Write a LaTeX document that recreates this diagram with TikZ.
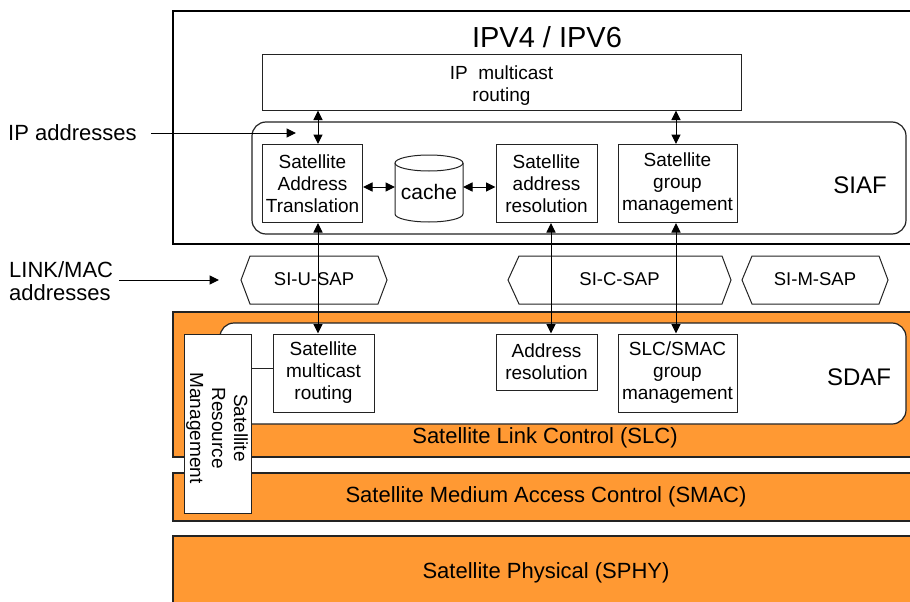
\documentclass[tikz,border=0pt]{standalone}
\usepackage{fontspec}
\setmainfont{Liberation Sans}
\usetikzlibrary{arrows.meta}
\definecolor{orng}{RGB}{255,153,51}
\definecolor{edge}{RGB}{35,35,35}
\begin{document}
\begin{tikzpicture}[x=1pt,y=-1pt,
  box/.style={draw=edge, line width=1pt, fill=white, inner sep=0pt, align=center, font=\fontsize{19}{22}\selectfont},
  boxtext/.style={inner sep=0pt, align=center, font=\fontsize{19}{22}\selectfont},
  layer/.style={draw=edge, line width=1.2pt, fill=orng},
  cont/.style={draw=edge, line width=1.2pt, fill=white, rounded corners=14pt},
  lbl/.style={inner sep=0pt, font=\fontsize{22}{26}\selectfont},
  side/.style={inner sep=0pt, align=left, font=\fontsize{22}{23}\selectfont},
  dbl/.style={{Triangle[length=9.5pt,width=9pt]}-{Triangle[length=9.5pt,width=9pt]}, line width=1pt},
  sgl/.style={-{Triangle[length=9.5pt,width=9pt]}, line width=1pt},
  sapline/.style={draw=edge, line width=1pt, fill=white},
  saptext/.style={inner sep=0pt, font=\fontsize{18.5}{22}\selectfont}
]
\useasboundingbox (0,0) rectangle (910,602);
\clip (0,0) rectangle (910,602);

% ---------- upper (IP) block ----------
\draw[line width=1.6pt, fill=white] (173,11) rectangle (915,244);
\node[lbl, font=\fontsize{29}{32}\selectfont, anchor=base] (ipv) at (547,48) {IPV4 / IPV6};
\node[box, minimum width=479pt, minimum height=55pt] (ipmc) at (501.5,82.5) {};
\node[boxtext] (ipmctext) at (501.5,86) {IP\ \ multicast\\routing};

\draw[cont] (252,122) rectangle (906,234);
\node[lbl, font=\fontsize{24}{28}\selectfont] (siaf) at (860,185) {SIAF};

\node[box, minimum width=100pt, minimum height=78pt] (sat) at (312.5,183.5) {Satellite\\Address\\Translation};
\node[box, minimum width=101pt, minimum height=78pt] (sar) at (546.5,183.5) {Satellite\\address\\resolution};
\node[box, minimum width=119pt, minimum height=78pt] (sgm) at (677.5,183.5) {Satellite\\group\\management};

% cache cylinder
\draw[draw=edge, line width=1pt, fill=white] (395,163) -- (395,214)
  arc[start angle=180, end angle=360, x radius=34pt, y radius=8pt] -- (463,163);
\draw[draw=edge, line width=1pt, fill=white] (429,163) ellipse[x radius=34pt, y radius=8pt];
\node[inner sep=0pt, font=\fontsize{21}{24}\selectfont] (cache) at (429,192) {cache};
\coordinate (cacheL) at (395,187);
\coordinate (cacheR) at (463,187);

% ---------- side labels ----------
\node[side, anchor=west] (ipaddr) at (8,133) {IP addresses};
\coordinate (ipstart) at (151,133);
\coordinate (iptip) at (296,133);
\node[side, anchor=west] (linkmac) at (9,281) {LINK/MAC\\addresses};
\coordinate (lmstart) at (119,280);
\coordinate (lmtip) at (219,280);

% ---------- SAP hexagons ----------
\draw[sapline] (241,280) -- (250,256) -- (378,256) -- (387,280) -- (378,304) -- (250,304) -- cycle;
\node[saptext] (sapu) at (314,279) {SI-U-SAP};
\draw[sapline] (508,280) -- (519,256) -- (722,256) -- (731,280) -- (722,304) -- (519,304) -- cycle;
\node[saptext] (sapc) at (619.5,279) {SI-C-SAP};
\draw[sapline] (742,280) -- (752,256) -- (879,256) -- (888,280) -- (879,304) -- (752,304) -- cycle;
\node[saptext] (sapm) at (815,279) {SI-M-SAP};

% ---------- lower (link) block ----------
\draw[layer] (173,312) rectangle (915,457);
\draw[layer] (173,473) rectangle (915,521);
\draw[layer] (173,536) rectangle (915,612);
\node[lbl] (slc) at (545,438) {Satellite Link Control (SLC)};
\node[lbl] (smac) at (546,497) {Satellite Medium Access Control (SMAC)};
\node[lbl] (sphy) at (546,573) {Satellite Physical (SPHY)};

\draw[cont] (220,323) rectangle (906,424);
\node[lbl, font=\fontsize{24}{28}\selectfont] (sdaf) at (859,377) {SDAF};

\node[box, minimum width=67pt, minimum height=179pt] (srm) at (218,423.5) {};
\node[boxtext, rotate=-90] (srmtext) at (217,428) {Satellite\\Resource\\Management};

\node[box, minimum width=101pt, minimum height=78pt] (smr) at (323.5,373) {Satellite\\multicast\\routing};
\node[box, minimum width=101pt, minimum height=56pt] (ar) at (546.5,362) {Address\\resolution};
\node[box, minimum width=119pt, minimum height=78pt] (ssg) at (677.5,373) {SLC/SMAC\\group\\management};

% ---------- connectors ----------
\coordinate (ax1) at (318,0);
\coordinate (ax2) at (551,0);
\coordinate (ax3) at (676,0);
\coordinate (lk) at (0,368);

\draw[dbl] (ipmc.south -| ax1) -- (sat.north -| ax1);
\draw[dbl] (ipmc.south -| ax3) -- (sgm.north -| ax3);
\draw[dbl] (sat.east |- cacheL) -- (cacheL);
\draw[dbl] (cacheR) -- (sar.west |- cacheR);
\draw[dbl] (sat.south -| ax1) -- (smr.north -| ax1);
\draw[dbl] (sar.south -| ax2) -- (ar.north -| ax2);
\draw[dbl] (sgm.south -| ax3) -- (ssg.north -| ax3);
\draw[line width=1pt, draw=edge] (srm.east |- lk) -- (smr.west |- lk);
\draw[sgl] (ipstart) -- (iptip);
\draw[sgl] (lmstart) -- (lmtip);
\end{tikzpicture}
\end{document}
